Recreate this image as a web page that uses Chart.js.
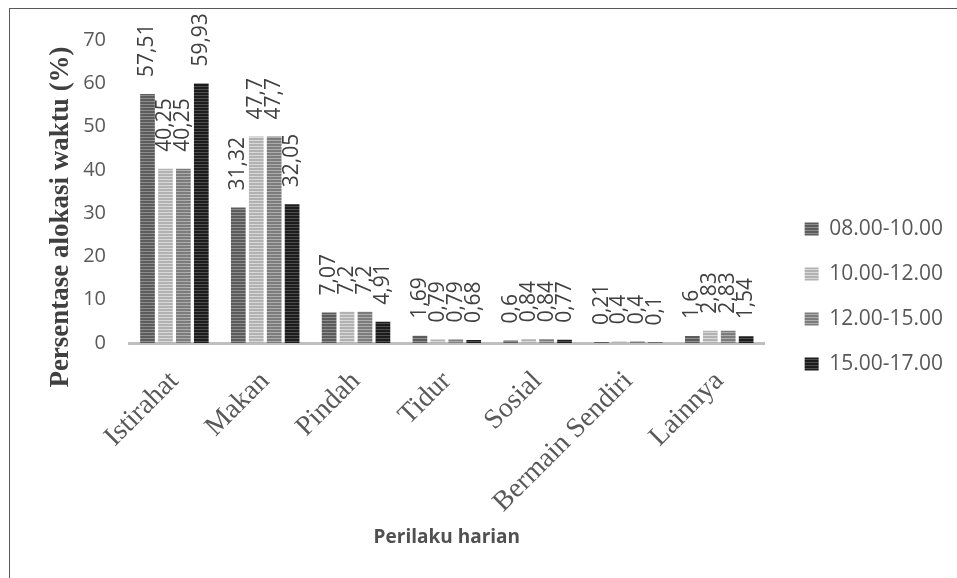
<!DOCTYPE html>
<html lang="id">
<head>
  <meta charset="UTF-8" />
  <title>Persentase alokasi waktu</title>
  <script src="https://cdn.jsdelivr.net/npm/chart.js"></script>
  <style>
    body { margin: 0; background: #fff; width: 957px; height: 578px; overflow: hidden; position: relative; }
    .bingkai { position: absolute; left: 9px; top: 8px; width: 1000px; height: 700px; border: 1px solid #5a5a5a; }
    #wadah { position: absolute; left: 0; top: 0; width: 957px; height: 578px; }
  </style>
</head>
<body>
  <div class="bingkai"></div>
  <div id="wadah"><canvas id="grafik"></canvas></div>

  <script>
    // data
    const kategori = ["Istirahat", "Makan", "Pindah", "Tidur", "Sosial", "Bermain Sendiri", "Lainnya"];
    const jam0810 = [57.51, 31.32, 7.07, 1.69, 0.6, 0.21, 1.6];
    const jam1012 = [40.25, 47.7, 7.2, 0.79, 0.84, 0.4, 2.83];
    const jam1215 = [40.25, 47.7, 7.2, 0.79, 0.84, 0.4, 2.83];
    const jam1517 = [59.93, 32.05, 4.91, 0.68, 0.77, 0.1, 1.54];
    const namaSeri = ["08.00-10.00", "10.00-12.00", "12.00-15.00", "15.00-17.00"];
    const judulY = "Persentase alokasi waktu (%)";
    const judulX = "Perilaku harian";

    const kanvas = document.getElementById("grafik");
    const ctxUtama = kanvas.getContext("2d");

    // pola garis horizontal seperti pada batang asli
    function garis(gelap, terang) {
      const c = document.createElement("canvas");
      c.width = 4; c.height = 3;
      const g = c.getContext("2d");
      g.fillStyle = terang; g.fillRect(0, 0, 4, 3);
      g.fillStyle = gelap; g.fillRect(0, 0, 4, 2);
      return ctxUtama.createPattern(c, "repeat");
    }

    // label nilai tegak di atas tiap batang, desimal pakai koma
    const labelNilai = {
      id: "labelNilai",
      afterDatasetsDraw(chart) {
        const ctx = chart.ctx;
        ctx.save();
        ctx.font = "21px 'Open Sans'";
        ctx.fillStyle = "#404040";
        ctx.textAlign = "left";
        ctx.textBaseline = "middle";
        chart.data.datasets.forEach((ds, i) => {
          chart.getDatasetMeta(i).data.forEach((bar, j) => {
            ctx.save();
            ctx.translate(bar.x, bar.y - 17);
            ctx.rotate(-Math.PI / 2);
            ctx.fillText(String(ds.data[j]).replace(".", ","), 0, 0);
            ctx.restore();
          });
        });
        ctx.restore();
      }
    };

    const judulSumbuY = {
      id: "judulSumbuY",
      afterDraw(chart) {
        const ctx = chart.ctx;
        ctx.save();
        ctx.translate(61, 217);
        ctx.rotate(-Math.PI / 2);
        ctx.font = "bold 27px 'Liberation Serif'";
        ctx.fillStyle = "#404040";
        ctx.textAlign = "center";
        ctx.textBaseline = "middle";
        ctx.fillText(judulY, 0, 0);
        ctx.restore();
      }
    };

    // legenda sedikit lebih jauh dari area plot
    const geserLegenda = {
      id: "geserLegenda",
      afterLayout(chart) {
        chart.legend.left += 16;
        chart.legend.right += 16;
      }
    };

    new Chart(kanvas, {
      type: "bar",
      data: {
        labels: kategori,
        datasets: [
          { label: namaSeri[0], data: jam0810, backgroundColor: garis("#5c5c5c", "#8e8e8e") },
          { label: namaSeri[1], data: jam1012, backgroundColor: garis("#b2b2b2", "#d8d8d8") },
          { label: namaSeri[2], data: jam1215, backgroundColor: garis("#7c7c7c", "#adadad") },
          { label: namaSeri[3], data: jam1517, backgroundColor: garis("#1c1c1c", "#4e4e4e") }
        ]
      },
      options: {
        responsive: true,
        maintainAspectRatio: false,
        animation: false,
        categoryPercentage: 0.79,
        barPercentage: 0.82,
        layout: { padding: { top: 40, bottom: 25, left: 0, right: 20 } },
        plugins: {
          legend: {
            position: "right",
            labels: {
              boxWidth: 14, boxHeight: 13, padding: 24, color: "#595959",
              font: { family: "'Open Sans'", size: 21 }
            }
          },
          tooltip: { enabled: false }
        },
        scales: {
          x: {
            grid: { display: false, drawTicks: false },
            border: { color: "#bfbfbf", width: 3 },
            ticks: {
              minRotation: 45, maxRotation: 45, padding: 22, color: "#595959",
              font: { family: "'Liberation Serif'", size: 28 }
            },
            title: {
              display: true, text: judulX, color: "#505050",
              font: { family: "'Open Sans'", size: 19, weight: "bold" },
              padding: { top: 0, bottom: 4 }
            },
            afterFit(s) { s.height = 210; }
          },
          y: {
            min: 0, max: 70,
            grid: { display: false, drawTicks: false },
            border: { display: false },
            ticks: {
              stepSize: 10, padding: 23, color: "#595959",
              font: { family: "'Open Sans'", size: 20 }
            },
            afterFit(s) { s.width = 129; }
          }
        }
      },
      plugins: [labelNilai, judulSumbuY, geserLegenda]
    });
  </script>
</body>
</html>
